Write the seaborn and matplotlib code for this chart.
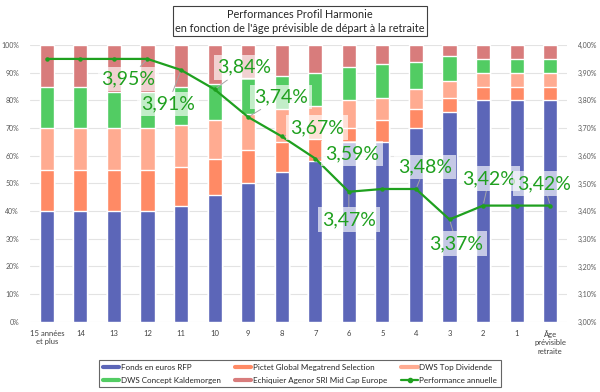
"""
Stacked allocation bars + annual performance line (Profil Harmonie)
"""

import numpy as np
import pandas as pd
import matplotlib
matplotlib.use('Agg')
import matplotlib.pyplot as plt
import seaborn as sns
from matplotlib.ticker import FuncFormatter
from matplotlib.lines import Line2D


# Data
categories = ['15 années\net plus', '14', '13', '12', '11', '10', '9', '8',
              '7', '6', '5', '4', '3', '2', '1', 'Âge\nprévisible\nretraite']
fonds_euros = [40, 40, 40, 40, 42, 46, 50, 54, 58, 65, 65, 70, 76, 80, 80, 80]
pictet = [15, 15, 15, 15, 14, 13, 12, 11, 8, 5, 8, 7, 5, 5, 5, 5]
dws_top = [15, 15, 15, 15, 15, 14, 13, 12, 12, 10, 8, 7, 6, 5, 5, 5]
dws_concept = [15, 15, 13, 13, 14, 13, 13, 12, 12, 12, 12, 10, 9, 5, 5, 5]
echiquier = [15, 15, 17, 17, 15, 14, 12, 11, 10, 8, 7, 6, 4, 5, 5, 5]
performance = [3.95, 3.95, 3.95, 3.95, 3.91, 3.84, 3.74, 3.67,
               3.59, 3.47, 3.48, 3.48, 3.37, 3.42, 3.42, 3.42]

series_names = ['Fonds en euros RFP', 'Pictet Global Megatrend Selection',
                'DWS Top Dividende', 'DWS Concept Kaldemorgen',
                'Echiquier Agenor SRI Mid Cap Europe']
series_colors = ['#5C66B8', '#FF8A65', '#FFAB91', '#52CC63', '#D87C7C']
line_color = '#1FA01F'

# label placement (pixel offsets from the point) for the shown data labels
label_offsets = {3: (-19, -20), 4: (-13, -34), 5: (30, 22), 6: (33, 20),
                 7: (35, 9), 8: (37, 5), 9: (0, -28), 11: (9, 22),
                 12: (7, -24), 13: (6, 27), 15: (-6, 22)}

sns.set_theme(style='white')
plt.rcParams['font.family'] = ['Lato', 'DejaVu Sans']

df = pd.DataFrame({'cat': categories})
for name, vals in zip(series_names, [fonds_euros, pictet, dws_top, dws_concept, echiquier]):
    df[name] = vals
cum = df[series_names].cumsum(axis=1)

fig = plt.figure(figsize=(6, 3.92), dpi=100)
ax = fig.add_axes([0.05, 0.179, 0.895, 0.706])

# stacked bars: draw cumulative totals from top layer down
for name, color in reversed(list(zip(series_names, series_colors))):
    sns.barplot(x=df['cat'], y=cum[name], color=color, width=0.42,
                saturation=1, ax=ax, order=categories)

ax.set_ylim(0, 100)
ax.set_xlim(-0.5, len(categories) - 0.5)
ax.set_yticks(np.arange(0, 101, 10))
ax.yaxis.set_major_formatter(FuncFormatter(lambda v, p: f'{v:.0f}%'))
ax.set_xlabel('')
ax.set_ylabel('')
ax.grid(axis='y', color='#E3E3E3', linewidth=0.8)
ax.set_axisbelow(True)
for s in ax.spines.values():
    s.set_visible(False)
ax.tick_params(axis='y', labelsize=5, labelcolor='#595959', length=0, pad=8)
ax.tick_params(axis='x', labelsize=5.5, labelcolor='#404040', length=0, pad=6)

# performance line on secondary axis
ax2 = ax.twinx()
xs = np.arange(len(categories))
sns.lineplot(x=xs, y=performance, color=line_color, linewidth=1.6,
             marker='o', markersize=3.2, markeredgewidth=0, ax=ax2)
ax2.set_ylim(3.0, 4.0)
ax2.set_yticks(np.arange(3.0, 4.01, 0.1))
ax2.yaxis.set_major_formatter(FuncFormatter(lambda v, p: f'{v:.2f}%'.replace('.', ',')))
ax2.tick_params(axis='y', labelsize=5, labelcolor='#595959', length=0, pad=8)
for s in ax2.spines.values():
    s.set_visible(False)
ax2.grid(False)

for i, (dx, dy) in label_offsets.items():
    ax2.annotate(f'{performance[i]:.2f}%'.replace('.', ','), xy=(i, performance[i]),
                 xytext=(dx, dy), textcoords='offset pixels',
                 ha='center', va='center', fontsize=14, color=line_color,
                 bbox=dict(boxstyle='square,pad=0.2', facecolor='white',
                           edgecolor='none', alpha=0.65),
                 arrowprops=dict(arrowstyle='-', color='#A6A6A6', lw=0.7,
                                 shrinkA=0, shrinkB=2))

# title box
fig.text(0.5, 0.946, 'Performances Profil Harmonie\n'
         "en fonction de l'âge prévisible de départ à la retraite",
         ha='center', va='center', fontsize=7.8, color='#262626',
         linespacing=1.3,
         bbox=dict(boxstyle='square,pad=0.25', facecolor='white',
                   edgecolor='#404040', linewidth=0.8))

# legend (row-wise order like the reference)
handles = [Line2D([0], [0], color=c, lw=3) for c in series_colors]
perf_handle = Line2D([0], [0], color=line_color, lw=1.6, marker='o', markersize=3)
order = [handles[0], handles[3], handles[1], handles[4], handles[2], perf_handle]
labels = [series_names[0], series_names[3], series_names[1], series_names[4],
          series_names[2], 'Performance annuelle']
leg = fig.legend(order, labels, ncol=3, loc='center', bbox_to_anchor=(0.5, 0.047),
                 fontsize=5.8, frameon=True, fancybox=False, edgecolor='#404040',
                 handlelength=2.0, columnspacing=1.8,
                 borderpad=0.45, labelspacing=0.75, handletextpad=0.2)
leg.get_frame().set_linewidth(0.8)

fig.savefig('out.png', dpi=100)
plt.close(fig)
